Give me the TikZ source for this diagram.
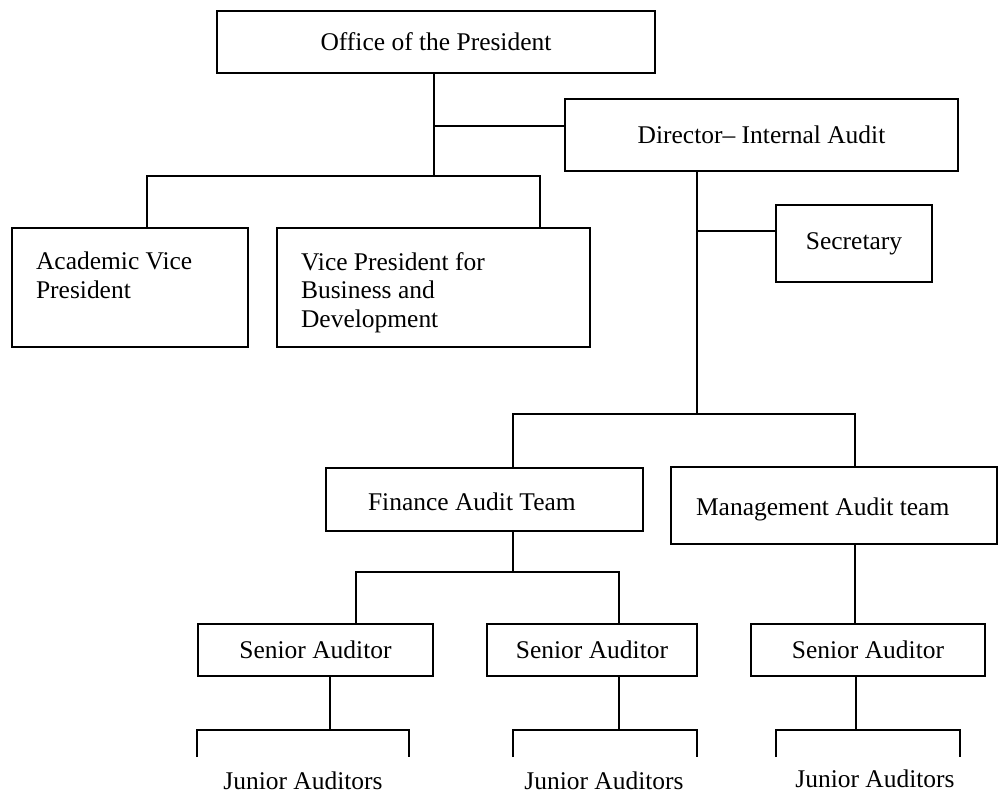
\documentclass[tikz,border=0pt]{standalone}
\usepackage{fontspec}
\setmainfont{Liberation Serif}
\usepackage{tikz}

\begin{document}
\begin{tikzpicture}[
                        x=0.02cm,
                        y=-0.02cm,
                        line width=1.2pt,
                        every node/.style={
                                font=\fontsize{14.5pt}{16.5pt}\selectfont,
                                inner sep=0pt,
                            },
                        box/.style={draw, rectangle},
                        boxtext/.style={anchor=north west, align=left},
                    ]

                    \useasboundingbox (0,0) rectangle (1000,796);

                    \node[box, minimum width=8.76cm, minimum height=1.24cm] (pres) at (436,42) {Office of the President};
                    \node[box, minimum width=7.86cm, minimum height=1.44cm] (dir) at (761.5,135) {Director-- Internal Audit};
                    \node[box, minimum width=4.72cm, minimum height=2.38cm] (avp) at (130,287.5) {};
                    \node[box, minimum width=6.26cm, minimum height=2.38cm] (vpbd) at (433.5,287.5) {};
                    \node[box, minimum width=3.12cm, minimum height=1.54cm] (sec) at (854,243.5) {Secretary};
                    \node[box, minimum width=6.34cm, minimum height=1.26cm] (fin) at (484.5,499.5) {};
                    \node[box, minimum width=6.52cm, minimum height=1.54cm] (mgmt) at (834,505.5) {};
                    \node[box, minimum width=4.70cm, minimum height=1.04cm] (sa1) at (315.5,650) {Senior Auditor};
                    \node[box, minimum width=4.20cm, minimum height=1.04cm] (sa2) at (592,650) {Senior Auditor};
                    \node[box, minimum width=4.68cm, minimum height=1.04cm] (sa3) at (868,650) {Senior Auditor};

                    \node[boxtext] (avp-t) at (35,251) {Academic Vice\\President};
                    \node[boxtext] (vpbd-t) at (300,251) {Vice President for\\Business and\\Development};
                    \node[anchor=west] (fin-t) at (367,502) {Finance Audit Team};
                    \node[anchor=west] (mgmt-t) at (695,509) {Management Audit team};

                    \node (jun1) at (303,781) {Junior Auditors};
                    \node (jun2) at (604,781) {Junior Auditors};
                    \node (jun3) at (875,779) {Junior Auditors};

                    \coordinate (jp) at (434,176);
                    \coordinate (jd) at (434,126);
                    \coordinate (ja) at (147,176);
                    \coordinate (jb) at (540,176);
                    \draw (pres.south -| jp) -- (jp);
                    \draw (jd) -- (jd -| dir.west);
                    \draw (avp.north -| ja) -- (ja) -- (jb) -- (vpbd.north -| jb);

                    \coordinate (jdir) at (697,414);
                    \coordinate (js) at (697,231);
                    \coordinate (jf) at (513,414);
                    \coordinate (jm) at (855,414);
                    \draw (dir.south -| jdir) -- (jdir);
                    \draw (js) -- (js -| sec.west);
                    \draw (fin.north -| jf) -- (jf) -- (jm) -- (mgmt.north -| jm);

                    \coordinate (jfa) at (513,572);
                    \coordinate (js1) at (356,572);
                    \coordinate (js2) at (619,572);
                    \draw (fin.south -| jfa) -- (jfa);
                    \draw (sa1.north -| js1) -- (js1) -- (js2) -- (sa2.north -| js2);
                    \draw (mgmt.south -| jm) -- (sa3.north -| jm);

                    \foreach \n/\c/\l/\r in {sa1/330/197/409, sa2/619/513/697, sa3/856/776/960}{
                            \coordinate (\n-j) at (\c,730);
                            \coordinate (\n-l) at (\l,757);
                            \coordinate (\n-r) at (\r,757);
                            \draw (\n.south -| \n-j) -- (\n-j);
                            \draw (\n-l) |- (\n-j) -| (\n-r);
                        }
                \end{tikzpicture}
\end{document}
